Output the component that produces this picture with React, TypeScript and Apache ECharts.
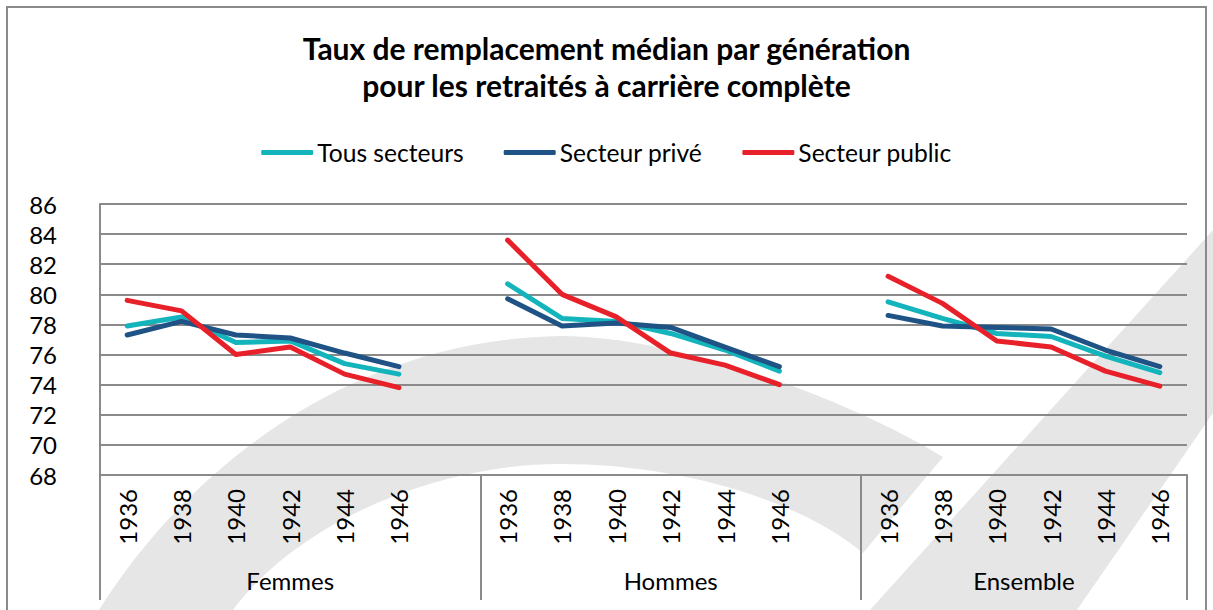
import React, { useEffect, useRef } from "react";
import * as echarts from "echarts";

const TITLE = "Taux de remplacement médian par génération\npour les retraités à carrière complète";
const years = ["1936", "1938", "1940", "1942", "1944", "1946"];
const groups = ["Femmes", "Hommes", "Ensemble"];
const groupSlots = [7, 7, 6];
const seriesNames = ["Tous secteurs", "Secteur privé", "Secteur public"];
const seriesColors = ["#14b4bc", "#1f5386", "#e8202a"];

const tousFemmes = [77.9, 78.5, 76.8, 76.9, 75.4, 74.7];
const priveFemmes = [77.3, 78.2, 77.3, 77.1, 76.1, 75.2];
const publicFemmes = [79.6, 78.9, 76.0, 76.5, 74.7, 73.8];

const tousHommes = [80.7, 78.4, 78.2, 77.4, 76.3, 74.9];
const priveHommes = [79.7, 77.9, 78.1, 77.8, 76.5, 75.2];
const publicHommes = [83.6, 80.0, 78.5, 76.1, 75.3, 74.0];

const tousEnsemble = [79.5, 78.4, 77.4, 77.2, 75.9, 74.8];
const priveEnsemble = [78.6, 77.9, 77.8, 77.7, 76.3, 75.2];
const publicEnsemble = [81.2, 79.4, 76.9, 76.5, 74.9, 73.9];

const yTicks = [68, 70, 72, 74, 76, 78, 80, 82, 84, 86];

const FONT = "Lato";
const GRID_COLOR = "#8a8a8a";
const WATERMARK = "#e6e6e6";

// decorative watermark swoosh behind the plot
const ARC_PATH =
  "M99,610 C180,480 340,340 560,336 C680,336 850,400 943,457 L863,553 C800,500 680,464 560,464 C440,464 300,520 233,610 Z";
echarts.graphic.registerShape("wmArc", echarts.graphic.extendPath(ARC_PATH, {}));

function App() {
  const ref = useRef<HTMLDivElement>(null);

  useEffect(() => {
    if (!ref.current) return;
    const chart = echarts.init(ref.current, null, { renderer: "svg" });

    // category axis: each group padded to its slot count with blanks
    const categories: string[] = [];
    groups.forEach((g, gi) => {
      for (let i = 0; i < groupSlots[gi]; i++) categories.push(i < years.length ? years[i] : "");
    });
    const pad = (arr: number[], gi: number) => {
      const out: (number | null)[] = [...arr];
      while (out.length < groupSlots[gi]) out.push(null);
      return out;
    };
    const build = (f: number[], h: number[], e: number[]) => [...pad(f, 0), ...pad(h, 1), ...pad(e, 2)];
    const seriesData = [
      build(tousFemmes, tousHommes, tousEnsemble),
      build(priveFemmes, priveHommes, priveEnsemble),
      build(publicFemmes, publicHommes, publicEnsemble),
    ];

    // secondary axis with half-slot points for group labels & separators
    const totalSlots = groupSlots.reduce((a, b) => a + b, 0);
    const halfPoints: string[] = new Array(totalSlots * 2 + 1).fill("");
    const boundaries: number[] = [];
    let start = 0;
    groups.forEach((g, gi) => {
      halfPoints[2 * start + groupSlots[gi]] = g;
      boundaries.push(2 * start);
      start += groupSlots[gi];
    });
    boundaries.push(2 * start);

    const option: any = {
      animation: false,
      backgroundColor: "#ffffff",
      textStyle: { fontFamily: FONT },
      title: {
        text: TITLE,
        left: "center",
        top: 24,
        textStyle: { fontFamily: FONT, fontWeight: "bold", fontSize: 30, lineHeight: 37, color: "#000" },
      },
      legend: {
        top: 135,
        left: "center",
        icon: "roundRect",
        itemWidth: 52,
        itemHeight: 5,
        itemGap: 40,
        textStyle: { fontFamily: FONT, fontSize: 24.6, color: "#000", padding: [0, 0, 0, -1] },
        data: seriesNames,
      },
      grid: { left: 100, right: 26, top: 204, bottom: 135, containLabel: false },
      xAxis: [
        {
          type: "category",
          position: "bottom",
          data: categories,
          boundaryGap: true,
          axisLine: { show: true, lineStyle: { color: GRID_COLOR, width: 2 } },
          axisTick: { show: false },
          axisLabel: { interval: 0, rotate: 90, margin: 14, fontSize: 24, fontFamily: FONT, color: "#000" },
        },
        {
          type: "category",
          position: "bottom",
          data: halfPoints,
          boundaryGap: false,
          axisLine: { show: false },
          axisTick: {
            show: true,
            length: 125,
            interval: (index: number) => boundaries.includes(index),
            lineStyle: { color: GRID_COLOR, width: 2 },
          },
          axisLabel: { interval: 0, margin: 93, fontSize: 24, fontFamily: FONT, color: "#000" },
        },
      ],
      yAxis: {
        type: "value",
        min: yTicks[0],
        max: yTicks[yTicks.length - 1],
        interval: 2,
        axisLine: { show: true, lineStyle: { color: GRID_COLOR, width: 2 } },
        axisTick: { show: false },
        axisLabel: { margin: 43, fontSize: 24, fontFamily: FONT, color: "#000" },
        splitLine: { show: true, lineStyle: { color: GRID_COLOR, width: 2 } },
      },
      series: seriesNames.map((name, i) => ({
        name,
        type: "line",
        data: seriesData[i],
        xAxisIndex: 0,
        symbol: "none",
        connectNulls: false,
        color: seriesColors[i],
        lineStyle: { width: 5, color: seriesColors[i], cap: "round", join: "round" },
        z: 3 + i,
      })),
      graphic: [
        {
          type: "wmArc",
          x: 0,
          y: 0,
          scaleX: 1,
          scaleY: 1,
          z: -100,
          silent: true,
          style: { fill: WATERMARK },
        },
        {
          type: "polygon",
          z: -100,
          silent: true,
          shape: { points: [[870, 610], [1213, 230], [1213, 413], [1077, 610]] },
          style: { fill: WATERMARK },
        },
        {
          type: "rect",
          z: 100,
          silent: true,
          shape: { x: 7, y: 7, width: 1199, height: 700 },
          style: { fill: "none", stroke: GRID_COLOR, lineWidth: 2 },
        },
      ],
    };

    chart.setOption(option);
    return () => chart.dispose();
  }, []);

  return (
    <div style={{ position: "fixed", left: 0, top: 0, width: 1213, height: 610, background: "#fff" }}>
      <div ref={ref} style={{ width: 1213, height: 610 }} />
    </div>
  );
}

export default App;
